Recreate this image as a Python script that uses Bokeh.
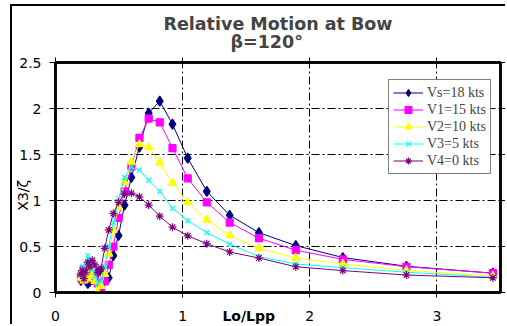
from bokeh.embed import file_html
from bokeh.models import (FixedTicker, Legend, LegendItem, LinearAxis, Range1d,
                          Title)
from bokeh.plotting import figure
from bokeh.resources import INLINE

# Wave length ratio Lo/Lpp at which the response was computed
lo_lpp = [3.44, 2.76, 2.26, 1.89, 1.60, 1.37, 1.19, 1.04, 0.92, 0.82, 0.733, 0.66,
          0.597, 0.543, 0.496, 0.455, 0.419, 0.387, 0.358, 0.333, 0.310, 0.289,
          0.270, 0.254, 0.238, 0.224, 0.211, 0.200]

# Relative motion amplitude X3/zeta at the bow, heading 120 deg
vs_18 = [0.21, 0.285, 0.38, 0.51, 0.65, 0.84, 1.10, 1.46, 1.83, 2.08, 1.95, 1.58,
         1.25, 0.95, 0.62, 0.40, 0.16, 0.19, 0.23, 0.22, 0.18, 0.14, 0.12, 0.10,
         0.15, 0.20, 0.16, 0.13]
v1_15 = [0.21, 0.28, 0.36, 0.46, 0.59, 0.76, 0.98, 1.24, 1.57, 1.85, 1.89, 1.68,
         1.37, 1.10, 0.81, 0.50, 0.30, 0.12, 0.05, 0.10, 0.16, 0.20, 0.15, 0.22,
         0.18, 0.25, 0.14, 0.17]
v2_10 = [0.18, 0.24, 0.31, 0.375, 0.48, 0.62, 0.79, 0.98, 1.19, 1.41, 1.58, 1.61,
         1.42, 1.20, 0.93, 0.68, 0.42, 0.20, 0.07, 0.00, 0.12, 0.18, 0.25, 0.15,
         0.20, 0.13, 0.22, 0.16]
v3_5 = [0.165, 0.22, 0.27, 0.31, 0.39, 0.526, 0.65, 0.78, 0.915, 1.10, 1.22, 1.33,
        1.36, 1.25, 1.02, 0.76, 0.50, 0.28, 0.12, 0.10, 0.18, 0.25, 0.32, 0.40,
        0.30, 0.22, 0.28, 0.18]
v4_0 = [0.16, 0.19, 0.238, 0.28, 0.375, 0.44, 0.53, 0.616, 0.71, 0.83, 0.95, 1.04,
        1.08, 1.07, 0.98, 0.86, 0.68, 0.48, 0.26, 0.22, 0.30, 0.35, 0.28, 0.33,
        0.22, 0.15, 0.24, 0.20]

series_labels = ["Vs=18 kts", "V1=15 kts", "V2=10 kts", "V3=5 kts", "V4=0 kts"]
x_ticks = [0, 1, 2, 3]
y_ticks = [0, 0.5, 1, 1.5, 2, 2.5]

styles = [
    (vs_18, "#000080", "diamond", 10),
    (v1_15, "#FF00FF", "square", 7),
    (v2_10, "#FFFF00", "triangle", 8),
    (v3_5, "#00FFFF", "x", 7),
    (v4_0, "#800080", "asterisk", 8),
]

NBSP = "\u00a0"

# The chart area has a black border on its left and top edges
p = figure(width=495, height=320, output_backend="svg", toolbar_location=None,
           x_range=Range1d(0, 3.5), y_range=Range1d(0, 2.5),
           min_border_left=43, min_border_right=7, min_border_top=55,
           min_border_bottom=34, background_fill_color="white",
           border_fill_color="white",
           styles={"margin-left": "10px", "margin-top": "4px",
                   "border-left": "2px solid black",
                   "border-top": "2px solid black"})
p.outline_line_color = "black"
p.outline_line_width = 2.5

tick_font = "DejaVu Sans"
for ax in (p.xaxis[0], p.yaxis[0]):
    ax.axis_line_width = 2.5
    ax.axis_line_color = "black"
    ax.major_tick_in = 0
    ax.minor_tick_line_color = None
    ax.major_label_text_font = tick_font
    ax.major_label_text_font_size = "14px"
    ax.major_label_text_color = "black"
    ax.axis_label_text_font = tick_font
    ax.axis_label_text_font_size = "14px"
    ax.axis_label_text_color = "black"

xa, ya = p.xaxis[0], p.yaxis[0]
xa.ticker = FixedTicker(ticks=x_ticks)
ya.ticker = FixedTicker(ticks=y_ticks)
xa.major_tick_out = 5
xa.major_label_standoff = 13
ya.major_tick_out = 6
ya.major_label_standoff = 8

# Axis names sit on the same row/column as the tick labels
xa.axis_label = "Lo/Lpp" + NBSP * 12
xa.axis_label_text_font_style = "bold"
xa.axis_label_standoff = -16
ya.axis_label = "X3/ζ" + NBSP * 8
ya.axis_label_text_font_style = "normal"
ya.axis_label_standoff = -15

# Tick marks on the right and top edges, no labels there
for side, ticks in (("right", y_ticks), ("above", x_ticks)):
    ax = LinearAxis(ticker=FixedTicker(ticks=ticks), major_tick_in=0,
                    major_tick_out=5, minor_tick_line_color=None,
                    major_label_overrides={t: "" for t in ticks},
                    major_label_standoff=0, axis_line_width=2.5)
    p.add_layout(ax, side)

for g, ticks in ((p.xgrid[0], x_ticks), (p.ygrid[0], y_ticks)):
    g.ticker = FixedTicker(ticks=ticks)
    g.grid_line_color = "black"
    g.grid_line_width = 1
    g.grid_line_dash = "8 3 2 3"

items = []
for (vals, color, marker, size), label in zip(styles, series_labels):
    r_line = p.line(lo_lpp, vals, line_color=color, line_width=1)
    r_mark = p.scatter(lo_lpp, vals, marker=marker, size=size, fill_color=color,
                       line_color=color, line_width=1.2)
    items.append(LegendItem(label=label, renderers=[r_line, r_mark]))

legend = Legend(items=items, location=(333, 118), label_text_font="Liberation Serif",
                label_text_font_size="14px", label_height=17, glyph_height=17,
                glyph_width=30, label_standoff=4, spacing=0, padding=4, margin=0,
                border_line_color="black", border_line_width=1,
                background_fill_color="white", background_fill_alpha=1)
p.add_layout(legend)

# Two-line bold chart title, second line centred under the first
p.add_layout(Title(text="Relative Motion at Bow\n" + NBSP * 11 + "β=120°",
                   align="center", offset=-12, text_font="DejaVu Sans",
                   text_font_style="bold", text_font_size="17.5px",
                   text_line_height=0.92, standoff=11), "above")

open("out.html", "w").write(file_html(p, INLINE))
